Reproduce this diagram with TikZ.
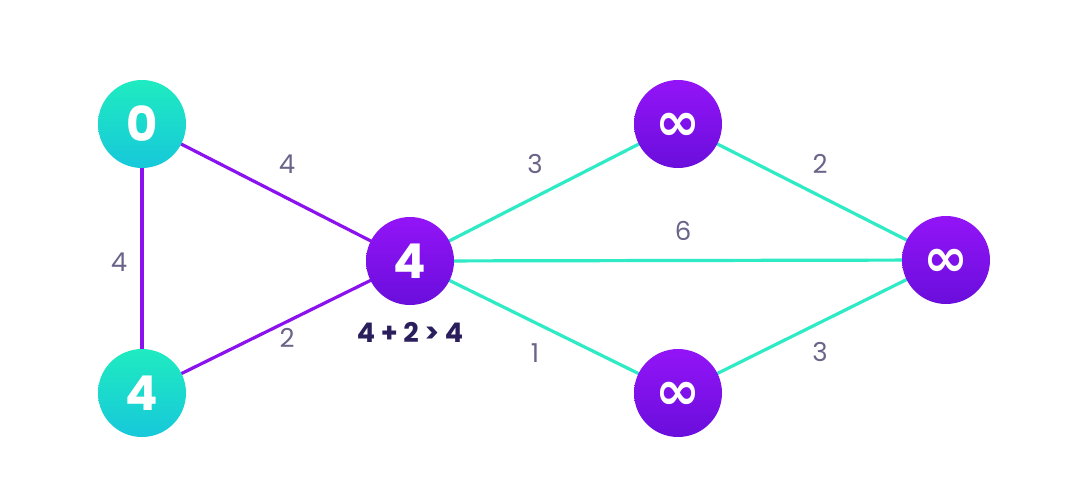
\documentclass[tikz,border=0pt]{standalone}
\usepackage{fontspec}
\setmainfont{Poppins}
\newfontfamily\symfont{DejaVu Sans}
\definecolor{tealA}{HTML}{1FEBC0}
\definecolor{tealB}{HTML}{17C8DA}
\definecolor{purA}{HTML}{9314F7}
\definecolor{purB}{HTML}{6A0EDC}
\definecolor{purEdge}{HTML}{8B12EE}
\definecolor{tealEdge}{HTML}{2EEBC6}
\definecolor{lab}{HTML}{6B6489}
\definecolor{navy}{HTML}{2A1F5C}
\newcommand{\infsym}{\smash{\raisebox{-16pt}{\symfont\fontsize{54}{54}\selectfont\bfseries ∞}}}
\begin{document}
\begin{tikzpicture}[x=1pt,y=-1pt,
  vtx/.style={circle,minimum size=88pt,inner sep=0pt,text=white,font=\fontsize{48}{48}\selectfont\bfseries},
  tvtx/.style={vtx,top color=tealA,bottom color=tealB,draw=none},
  pvtx/.style={vtx,top color=purA,bottom color=purB,draw=none},
  pe/.style={draw=purEdge,line width=3.2pt},
  te/.style={draw=tealEdge,line width=3.2pt},
  elab/.style={text=lab,font=\fontsize{26}{26}\selectfont}
]
\useasboundingbox (0,0) rectangle (1088,480);
\fill[white] (0,0) rectangle (1088,480);
\coordinate (c0) at (142,124);
\coordinate (c1) at (142,393);
\coordinate (c2) at (410,261);
\coordinate (c3) at (678,124);
\coordinate (c4) at (946,260);
\coordinate (c5) at (678,393);
\draw[pe] (c0) -- (c1);
\draw[pe] (c0) -- (c2);
\draw[pe] (c1) -- (c2);
\draw[te] (c2) -- (c3);
\draw[te] (c2) -- (c4);
\draw[te] (c2) -- (c5);
\draw[te] (c3) -- (c4);
\draw[te] (c5) -- (c4);
\node[tvtx] (n0) at (c0) {0};
\node[tvtx] (n1) at (c1) {4};
\node[pvtx] (n2) at (c2) {4};
\node[pvtx] (n3) at (c3) {\infsym};
\node[pvtx] (n4) at (c4) {\infsym};
\node[pvtx] (n5) at (c5) {\infsym};
\node[elab] (l01) at (119,262) {4};
\node[elab] (l02) at (287,164) {4};
\node[elab] (l12) at (287,338) {2};
\node[elab] (l23) at (535,164) {3};
\node[elab] (l24) at (683,231) {6};
\node[elab] (l25) at (535,353) {1};
\node[elab] (l34) at (820,164) {2};
\node[elab] (l54) at (820,352) {3};
\node[text=navy,font=\fontsize{27}{27}\selectfont\bfseries] (calc) at (410,332) {4 + 2 > 4};
\end{tikzpicture}
\end{document}
